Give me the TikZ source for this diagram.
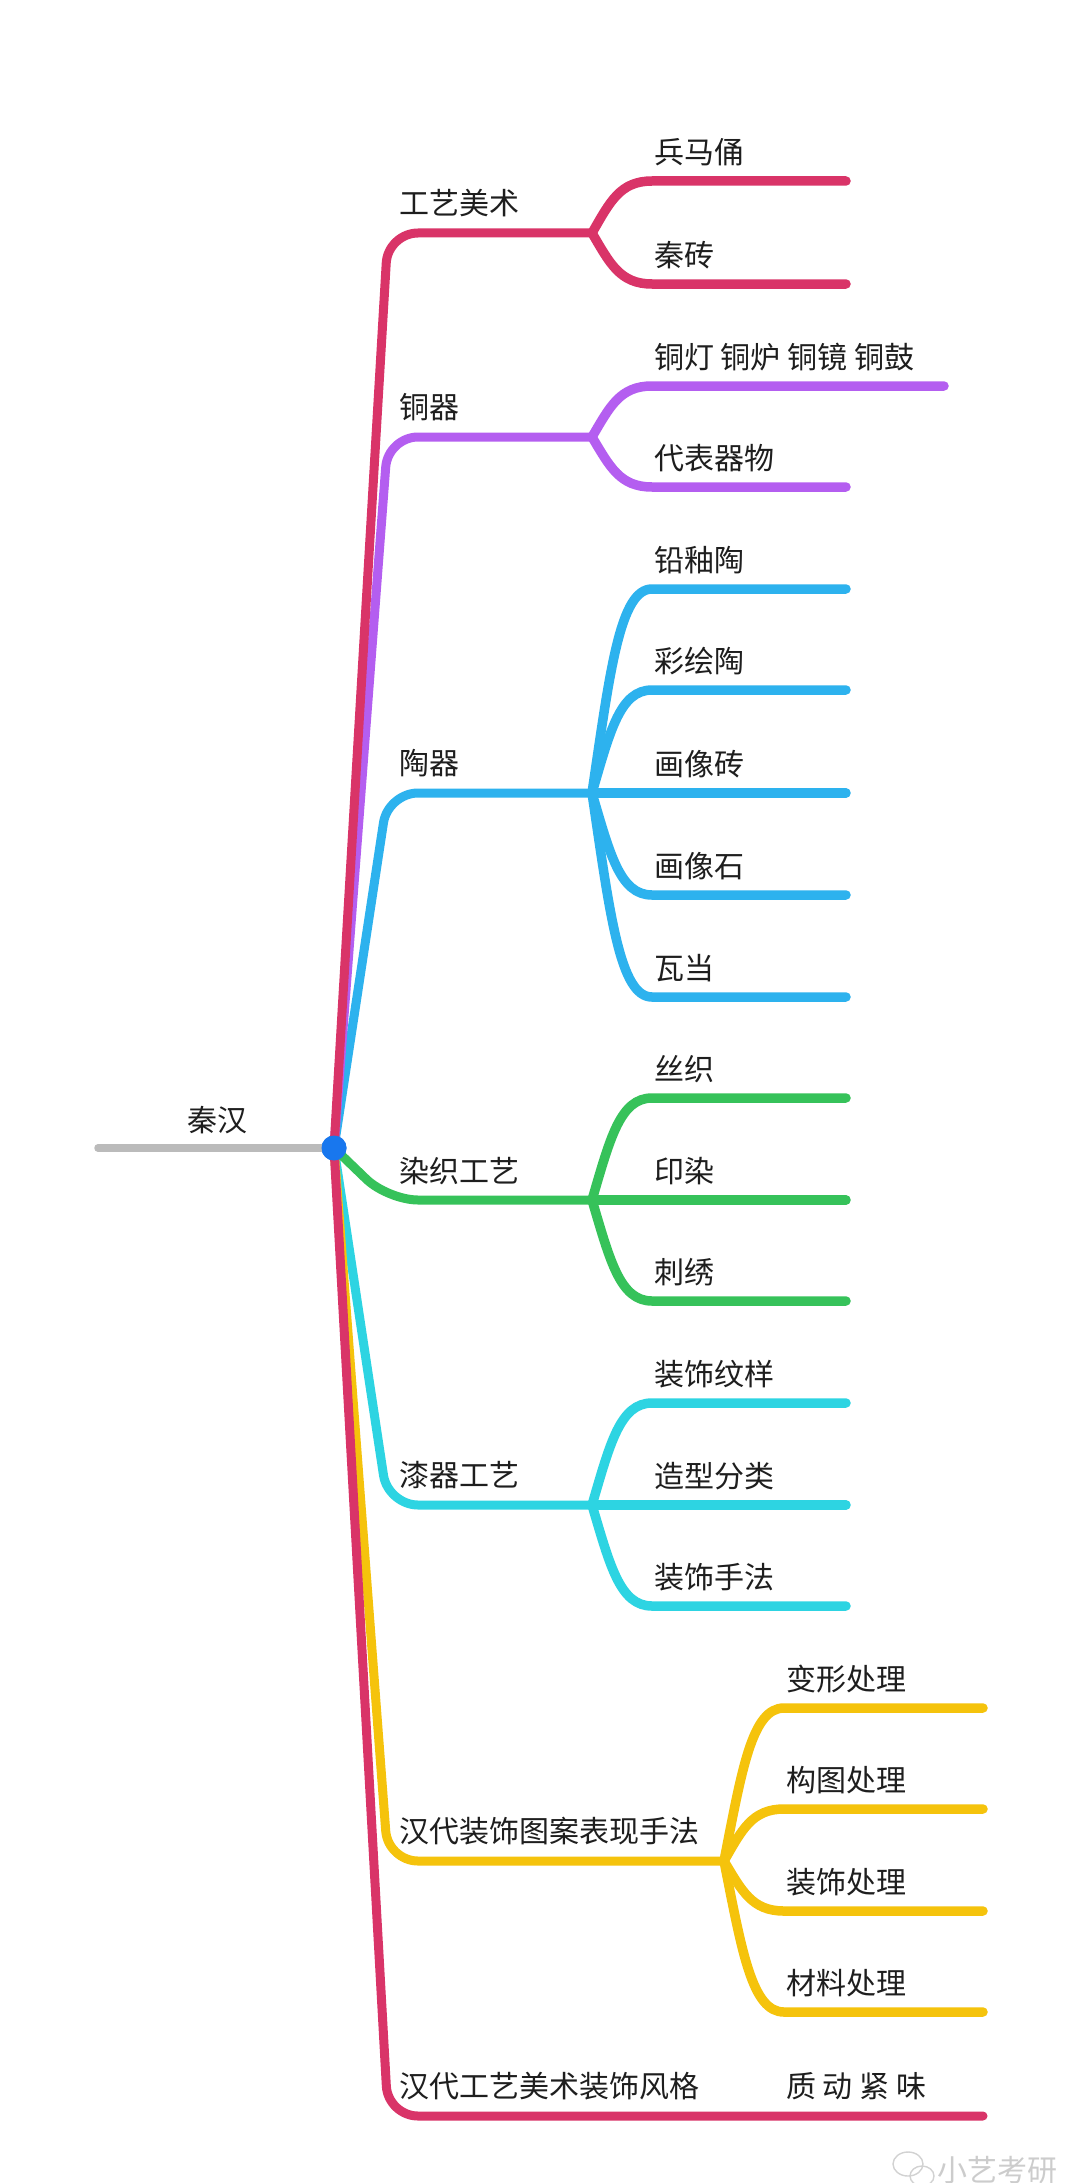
\documentclass[tikz,border=0pt]{standalone}
\usepackage{fontspec}
\setmainfont{Noto Sans CJK SC}
\usetikzlibrary{calc}
\definecolor{cCrim}{HTML}{D93468}
\definecolor{cPurp}{HTML}{B45EF0}
\definecolor{cBlue}{HTML}{2DB2EE}
\definecolor{cGreen}{HTML}{36C25A}
\definecolor{cCyan}{HTML}{2DD4E2}
\definecolor{cYell}{HTML}{F5C30C}
\definecolor{cGrey}{HTML}{BBBBBB}
\definecolor{cDot}{HTML}{1877EE}
\definecolor{cText}{HTML}{1E1E1E}
\tikzset{
  lvl/.style={line width=9pt, line cap=round, line join=round, rounded corners=30pt},
  lvltwo/.style={line width=9.5pt, line cap=round, line join=round},
  lbl/.style={anchor=west, inner sep=0pt, text=cText, font=\fontsize{30}{32}\selectfont},
}
\begin{document}
\begin{tikzpicture}[x=1pt,y=-1pt]
\useasboundingbox (0,0) rectangle (1080,2183);
\fill[white] (0,0) rectangle (1080,2183);

% root
\node[circle, fill=cDot, minimum size=25pt, inner sep=0pt] (hub) at (334,1148) {};
\coordinate (rootL) at (98,1148);
\node[lbl, anchor=center] (qinhan) at (217,1120) {秦汉};

% level-1 junctions / ends
\coordinate (jGY) at (592,233);
\coordinate (jTQ) at (592,437);
\coordinate (jTC) at (592,793);
\coordinate (jRZ) at (592,1200);
\coordinate (jQQ) at (592,1505);
\coordinate (jHZ) at (724,1861);
\coordinate (eFG) at (983,2116);

% level-1 connectors
\draw[lvl, cGrey, line width=7.5pt] (rootL) -- (hub.center);
\draw[lvl, cCyan]  (hub.center) -- ($(jQQ)+(-204,0)$) -- (jQQ);
\draw[lvl, cYell]  (hub.center) -- ($(jHZ)+(-336,0)$) -- (jHZ);
\draw[lvl, cGreen] (hub.center) -- ($(jRZ)+(-204,0)$) -- (jRZ);
\draw[lvl, cBlue]  (hub.center) -- ($(jTC)+(-204,0)$) -- (jTC);
\draw[lvl, cPurp]  (hub.center) -- ($(jTQ)+(-204,0)$) -- (jTQ);
\draw[lvl, cCrim]  (hub.center) -- ($(jGY)+(-204,0)$) -- (jGY);
\draw[lvl, cCrim]  (hub.center) -- ($(eFG)+(-595,0)$) -- (eFG);

% level-1 labels
\node[lbl] (nGY) at (399,203)  {工艺美术};
\node[lbl] (nTQ) at (399,407)  {铜器};
\node[lbl] (nTC) at (399,763)  {陶器};
\node[lbl] (nRZ) at (399,1171) {染织工艺};
\node[lbl] (nQQ) at (399,1475) {漆器工艺};
\node[lbl] (nHZ) at (399,1831) {汉代装饰图案表现手法};
\node[lbl] (nFG) at (399,2086) {汉代工艺美术装饰风格};
\node[lbl] (nFGc) at (786,2086) {质 动 紧 味};

% level-2 children
\foreach \n/\j/\jy/\c/\y/\ex/\t in {
  a1/jGY/233/cCrim/181/846/兵马俑,
  a2/jGY/233/cCrim/284/846/秦砖,
  b1/jTQ/437/cPurp/386/944/铜灯 铜炉 铜镜 铜鼓,
  b2/jTQ/437/cPurp/487/846/代表器物,
  c1/jTC/793/cBlue/589/846/铅釉陶,
  c2/jTC/793/cBlue/690/846/彩绘陶,
  c3/jTC/793/cBlue/793/846/画像砖,
  c4/jTC/793/cBlue/895/846/画像石,
  c5/jTC/793/cBlue/997/846/瓦当,
  d1/jRZ/1200/cGreen/1098/846/丝织,
  d2/jRZ/1200/cGreen/1200/846/印染,
  d3/jRZ/1200/cGreen/1301/846/刺绣,
  e1/jQQ/1505/cCyan/1403/846/装饰纹样,
  e2/jQQ/1505/cCyan/1505/846/造型分类,
  e3/jQQ/1505/cCyan/1606/846/装饰手法}{
  \coordinate (t\n) at (\ex,\y);
  \draw[lvltwo, \c] (\j) .. controls (610,{\jy+0.6*(\y-\jy)}) and (620,\y) .. (652,\y) -- (t\n);
  \node[lbl] (n\n) at (654,\y-29) {\t};
}
\foreach \n/\y/\t in {
  f1/1708/变形处理,
  f2/1809/构图处理,
  f3/1911/装饰处理,
  f4/2012/材料处理}{
  \coordinate (t\n) at (983,\y);
  \draw[lvltwo, cYell] (jHZ) .. controls (742,{1861+0.6*(\y-1861)}) and (752,\y) .. (784,\y) -- (t\n);
  \node[lbl] (n\n) at (786,\y-29) {\t};
}

% hub on top
\node[circle, fill=cDot, minimum size=25pt, inner sep=0pt] at (hub) {};

% watermark
\node[lbl, text=gray!40, font=\fontsize{30}{30}\selectfont] (wm) at (937,2170) {小艺考研};
\draw[gray!35, line width=1.4pt] (908,2164) ellipse (15pt and 12pt);
\draw[gray!35, line width=1.4pt] (922,2176) ellipse (12pt and 10pt);
\end{tikzpicture}
\end{document}
